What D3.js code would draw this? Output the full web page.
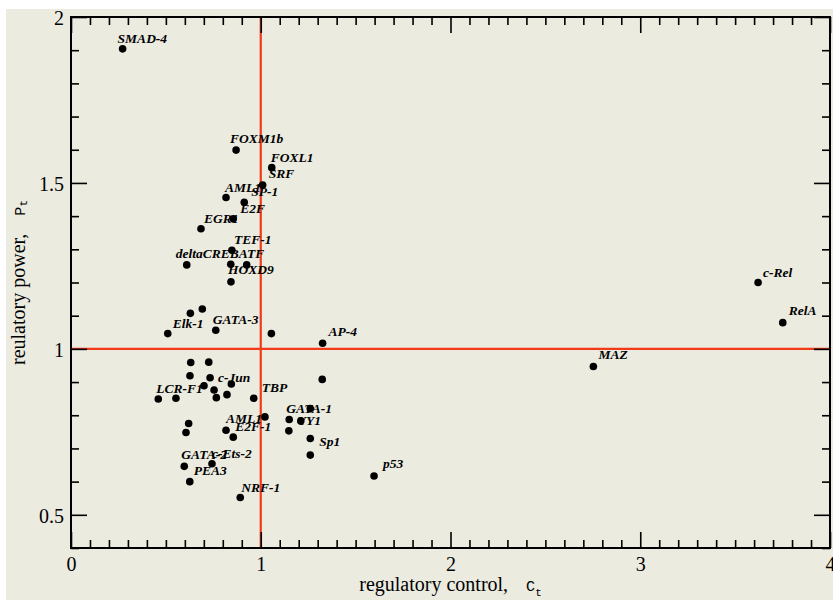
<!DOCTYPE html>
<html>
<head>
<meta charset="utf-8">
<script src="https://cdn.jsdelivr.net/npm/d3@7"></script>
<style>
  html, body { margin: 0; padding: 0; background: #ffffff; }
  svg { display: block; }
  .serif { font-family: "Liberation Serif", Tinos, "Times New Roman", "Nimbus Roman", "DejaVu Serif", serif; }
  .mono { font-family: "Liberation Mono", "DejaVu Sans Mono", monospace; }
</style>
</head>
<body>
<svg id="chart" width="833" height="600"></svg>
<script>
// Transcription factors: regulatory control C_t vs regulatory power P_t
const factors = [
  "SMAD-4", "FOXM1b", "FOXL1", "SRF", "AML1", "SP-1", "E2F", "EGR1", "TEF-1",
  "deltaCREB", "ATF", "", "HOXD9", "", "", "Elk-1", "GATA-3", "", "AP-4",
  "", "", "", "", "", "", "c-Jun", "", "", "LCR-F1", "", "TBP", "",
  "", "GATA-1", "", "", "YY1", "", "Sp1", "", "", "AML1", "E2F-1",
  "c-Ets-2", "GATA-2", "PEA3", "NRF-1", "p53", "MAZ", "c-Rel", "RelA"
];
const control = [
  0.272, 0.870, 1.058, 1.010, 0.817, 0.913, 0.855, 0.685, 0.848,
  0.610, 0.842, 0.926, 0.843, 0.692, 0.629, 0.510, 0.763, 1.056, 1.326,
  0.631, 0.726, 0.627, 0.733, 0.845, 0.701, 0.754, 0.822, 0.766, 0.460, 0.553, 0.963, 1.324,
  1.022, 1.150, 1.211, 1.261, 1.148, 1.261, 1.261, 0.620, 0.606, 0.817, 0.855,
  0.743, 0.597, 0.626, 0.892, 1.597, 2.753, 3.621, 3.751
];
const power = [
  1.904, 1.599, 1.546, 1.494, 1.456, 1.442, 1.392, 1.362, 1.297,
  1.253, 1.255, 1.253, 1.202, 1.120, 1.107, 1.046, 1.056, 1.046, 1.017,
  0.959, 0.960, 0.919, 0.913, 0.894, 0.889, 0.876, 0.862, 0.853, 0.849, 0.851, 0.851, 0.908,
  0.795, 0.787, 0.783, 0.820, 0.753, 0.730, 0.680, 0.775, 0.748, 0.755, 0.734,
  0.654, 0.646, 0.600, 0.552, 0.617, 0.947, 1.200, 1.079
];

// Axis ticks
const xMajor = [0, 1, 2, 3, 4];
const yMajor = [0.5, 1, 1.5, 2];
const xTickLabels = ["0", "1", "2", "3", "4"];
const yTickLabels = ["0.5", "1", "1.5", "2"];

// Reference lines at C_t = 1 and P_t = 1
const refX = 1, refY = 1;

// Pixel nudges for the factor names, relative to their dot
const labelNudge = [
  [-5, -6], [-6, -7], [-1, -6], [6, -7], [-1, -6], [7, -6], [7, -6], [3, -6], [2, -6],
  [-11, -7], [8, -6], null, [-3, -8], null, null, [5, -6], [-3, -6], null, [6, -7],
  null, null, null, null, null, null, [4, -8], null, null, [-2, -6], null, [8, -6], null,
  null, [-3, -6.5], null, null, [9, -6], null, [9, -9], null, null, [0, -7], [2, -6],
  [0, -6], [-3, -7], [4, -7], [1, -6], [9, -8], [5, -7], [5, -6], [6, -8]
];

const W = 833, H = 600;
const margin = { left: 71, top: 17, right: 3, bottom: 52 };
const iw = W - margin.left - margin.right;
const ih = H - margin.top - margin.bottom;

const bg = "#ebebe0";
const red = "#f23a18";

const svg = d3.select("#chart");

// page panel
svg.append("rect")
  .attr("x", 6).attr("y", 9)
  .attr("width", W - 6).attr("height", H - 9)
  .attr("fill", bg);

const x = d3.scaleLinear().domain([0, 4]).range([margin.left, margin.left + iw]);
const y = d3.scaleLinear().domain([0.4, 2]).range([margin.top + ih, margin.top]);

const xMinor = d3.range(1, 40).map(d => d / 10).filter(d => !xMajor.includes(d));
const yMinor = d3.range(4, 20).map(d => d / 10).filter(d => !yMajor.includes(d));

// reference lines
svg.append("line")
  .attr("x1", x(refX)).attr("x2", x(refX))
  .attr("y1", y(0.4)).attr("y2", y(2))
  .attr("stroke", red).attr("stroke-width", 2.2);
svg.append("line")
  .attr("x1", x(0)).attr("x2", x(4))
  .attr("y1", y(refY)).attr("y2", y(refY))
  .attr("stroke", red).attr("stroke-width", 2.2);

function styleAxis(g) {
  g.attr("font-family", null).attr("font-size", null);
  g.select(".domain").remove();
  g.selectAll(".tick line").attr("stroke", "#000").attr("stroke-width", 1.6);
  g.selectAll(".tick text").attr("fill", "#000").attr("class", "serif").style("font-size", "20px");
}

const majorLen = 16, minorLen = 8;

// bottom axis
svg.append("g").attr("transform", `translate(0,${y(0.4)})`)
  .call(d3.axisBottom(x).tickValues(xMajor).tickSize(-majorLen).tickSizeOuter(0)
    .tickPadding(9).tickFormat((d, i) => xTickLabels[i]))
  .call(styleAxis);
svg.append("g").attr("transform", `translate(0,${y(0.4)})`)
  .call(d3.axisBottom(x).tickValues(xMinor).tickSize(-minorLen).tickSizeOuter(0).tickFormat(""))
  .call(styleAxis);
// top axis
svg.append("g").attr("transform", `translate(0,${y(2)})`)
  .call(d3.axisTop(x).tickValues(xMajor).tickSize(-majorLen).tickSizeOuter(0).tickFormat(""))
  .call(styleAxis);
svg.append("g").attr("transform", `translate(0,${y(2)})`)
  .call(d3.axisTop(x).tickValues(xMinor).tickSize(-minorLen).tickSizeOuter(0).tickFormat(""))
  .call(styleAxis);
// left axis
svg.append("g").attr("transform", `translate(${x(0)},0)`)
  .call(d3.axisLeft(y).tickValues(yMajor).tickSize(-majorLen).tickSizeOuter(0)
    .tickPadding(7).tickFormat((d, i) => yTickLabels[i]))
  .call(styleAxis)
  .call(g => g.selectAll(".tick text").attr("dy", "0.38em"));
svg.append("g").attr("transform", `translate(${x(0)},0)`)
  .call(d3.axisLeft(y).tickValues(yMinor).tickSize(-minorLen).tickSizeOuter(0).tickFormat(""))
  .call(styleAxis);
// right axis
svg.append("g").attr("transform", `translate(${x(4)},0)`)
  .call(d3.axisRight(y).tickValues(yMajor).tickSize(-majorLen).tickSizeOuter(0).tickFormat(""))
  .call(styleAxis);
svg.append("g").attr("transform", `translate(${x(4)},0)`)
  .call(d3.axisRight(y).tickValues(yMinor).tickSize(-minorLen).tickSizeOuter(0).tickFormat(""))
  .call(styleAxis);

// frame
svg.append("rect")
  .attr("x", x(0)).attr("y", y(2))
  .attr("width", x(4) - x(0)).attr("height", y(0.4) - y(2))
  .attr("fill", "none").attr("stroke", "#000").attr("stroke-width", 2);

// data points
const pts = factors.map((name, i) => ({ name, c: control[i], p: power[i], nudge: labelNudge[i] }));

svg.append("g").selectAll("circle")
  .data(pts)
  .join("circle")
  .attr("cx", d => x(d.c))
  .attr("cy", d => y(d.p))
  .attr("r", 3.8)
  .attr("fill", "#000");

svg.append("g").selectAll("text")
  .data(pts.filter(d => d.name))
  .join("text")
  .attr("class", "serif")
  .attr("x", d => x(d.c) + d.nudge[0])
  .attr("y", d => y(d.p) + d.nudge[1])
  .style("font-size", "13.5px")
  .style("font-weight", "bold")
  .style("font-style", "italic")
  .attr("fill", "#000")
  .text(d => d.name);

// axis titles
const xt = svg.append("text")
  .attr("class", "serif")
  .attr("x", (x(0) + x(4)) / 2)
  .attr("y", 591)
  .attr("text-anchor", "middle")
  .style("font-size", "20px")
  .attr("fill", "#000");
xt.append("tspan").text("regulatory control,");
xt.append("tspan").attr("class", "mono").attr("dx", 18).style("font-size", "15px").text("C");
xt.append("tspan").attr("class", "mono").attr("dy", 5).style("font-size", "11px").text("t");

const yt = svg.append("text")
  .attr("class", "serif")
  .attr("transform", `translate(25,${(y(0.4) + y(2)) / 2}) rotate(-90)`)
  .attr("text-anchor", "middle")
  .style("font-size", "20px")
  .attr("fill", "#000");
yt.append("tspan").text("reulatory power,");
yt.append("tspan").attr("class", "mono").attr("dx", 18).style("font-size", "15px").text("P");
yt.append("tspan").attr("class", "mono").attr("dy", 2).style("font-size", "11px").text("t");
</script>
</body>
</html>
